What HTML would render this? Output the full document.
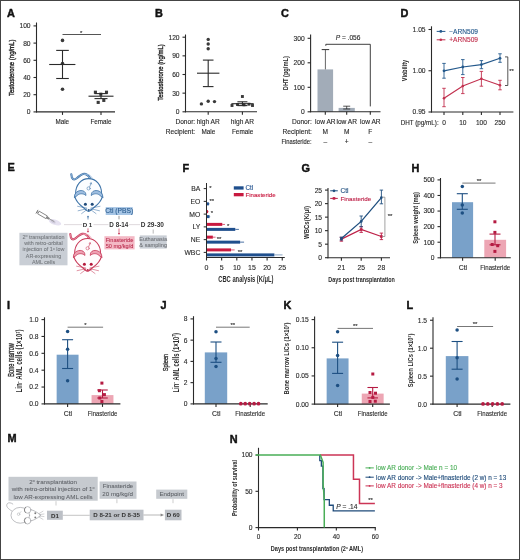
<!DOCTYPE html>
<html><head><meta charset="utf-8"><style>
html,body{margin:0;padding:0;background:#fff;}
svg{display:block;will-change:transform;}
text{font-family:"Liberation Sans", sans-serif;}
</style></head><body>
<svg width="520" height="560" viewBox="0 0 520 560" font-family='"Liberation Sans", sans-serif'>
<rect x="0.5" y="0.5" width="519" height="559" fill="#fff" stroke="#444" stroke-width="1"/>
<text x="7" y="16.52" font-size="10.9" text-anchor="start" fill="#111" font-weight="bold" stroke="#111" stroke-width="0.45">A</text>
<line x1="36.5" y1="22.5" x2="36.5" y2="112.4" stroke="#2a2a2a" stroke-width="1.1"/>
<line x1="33.5" y1="111.9" x2="36.5" y2="111.9" stroke="#2a2a2a" stroke-width="1.1"/>
<text x="30.6" y="114.31" font-size="6.7" text-anchor="end" fill="#2a2a2a" stroke="#2a2a2a" stroke-width="0.12">0</text>
<line x1="33.5" y1="94.7" x2="36.5" y2="94.7" stroke="#2a2a2a" stroke-width="1.1"/>
<text x="30.6" y="97.11" font-size="6.7" text-anchor="end" fill="#2a2a2a" stroke="#2a2a2a" stroke-width="0.12">20</text>
<line x1="33.5" y1="77.5" x2="36.5" y2="77.5" stroke="#2a2a2a" stroke-width="1.1"/>
<text x="30.6" y="79.91" font-size="6.7" text-anchor="end" fill="#2a2a2a" stroke="#2a2a2a" stroke-width="0.12">40</text>
<line x1="33.5" y1="60.3" x2="36.5" y2="60.3" stroke="#2a2a2a" stroke-width="1.1"/>
<text x="30.6" y="62.71" font-size="6.7" text-anchor="end" fill="#2a2a2a" stroke="#2a2a2a" stroke-width="0.12">60</text>
<line x1="33.5" y1="43.1" x2="36.5" y2="43.1" stroke="#2a2a2a" stroke-width="1.1"/>
<text x="30.6" y="45.51" font-size="6.7" text-anchor="end" fill="#2a2a2a" stroke="#2a2a2a" stroke-width="0.12">80</text>
<line x1="33.5" y1="25.9" x2="36.5" y2="25.9" stroke="#2a2a2a" stroke-width="1.1"/>
<text x="30.6" y="28.31" font-size="6.7" text-anchor="end" fill="#2a2a2a" stroke="#2a2a2a" stroke-width="0.12">100</text>
<line x1="36" y1="111.9" x2="115" y2="111.9" stroke="#2a2a2a" stroke-width="1.1"/>
<line x1="62.5" y1="111.9" x2="62.5" y2="114.9" stroke="#2a2a2a" stroke-width="1.1"/>
<line x1="101" y1="111.9" x2="101" y2="114.9" stroke="#2a2a2a" stroke-width="1.1"/>
<text x="10.9" y="70.43" font-size="7.3" text-anchor="middle" fill="#2a2a2a" textLength="56.4" lengthAdjust="spacingAndGlyphs" stroke="#2a2a2a" stroke-width="0.4" transform="rotate(-90 10.9 67.8)">Testosterone (ng/mL)</text>
<line x1="62.5" y1="34.5" x2="101" y2="34.5" stroke="#2a2a2a" stroke-width="0.8"/>
<text x="81.2" y="34.66" font-size="6" text-anchor="middle" fill="#2a2a2a" stroke="#2a2a2a" stroke-width="0.12">*</text>
<circle cx="62.5" cy="40.4" r="1.8" fill="#3a3a3a"/>
<circle cx="62.5" cy="63.5" r="1.8" fill="#3a3a3a"/>
<circle cx="62.5" cy="89.3" r="1.8" fill="#3a3a3a"/>
<line x1="49.2" y1="64.5" x2="75.4" y2="64.5" stroke="#2a2a2a" stroke-width="1.1"/>
<line x1="62.5" y1="50.4" x2="62.5" y2="78.5" stroke="#2a2a2a" stroke-width="1.1"/>
<line x1="56.2" y1="50.4" x2="68.8" y2="50.4" stroke="#2a2a2a" stroke-width="1.1"/>
<line x1="56.2" y1="78.5" x2="68.8" y2="78.5" stroke="#2a2a2a" stroke-width="1.1"/>
<rect x="93.85" y="90.65" width="3.1" height="3.1" fill="#3a3a3a"/>
<rect x="104.95" y="90.65" width="3.1" height="3.1" fill="#3a3a3a"/>
<rect x="99.25" y="92.65" width="3.1" height="3.1" fill="#3a3a3a"/>
<rect x="96.65" y="100.85" width="3.1" height="3.1" fill="#3a3a3a"/>
<rect x="102.25" y="98.85" width="3.1" height="3.1" fill="#3a3a3a"/>
<line x1="88.5" y1="96.2" x2="113.5" y2="96.2" stroke="#2a2a2a" stroke-width="1.1"/>
<line x1="101" y1="93.6" x2="101" y2="98.6" stroke="#2a2a2a" stroke-width="1.1"/>
<line x1="94.5" y1="93.6" x2="107.5" y2="93.6" stroke="#2a2a2a" stroke-width="1.1"/>
<line x1="94.5" y1="98.6" x2="107.5" y2="98.6" stroke="#2a2a2a" stroke-width="1.1"/>
<text x="62.3" y="123.97" font-size="6.3" text-anchor="middle" fill="#2a2a2a" stroke="#2a2a2a" stroke-width="0.12">Male</text>
<text x="100.9" y="123.97" font-size="6.3" text-anchor="middle" fill="#2a2a2a" stroke="#2a2a2a" stroke-width="0.12">Female</text>
<text x="155" y="16.52" font-size="10.9" text-anchor="start" fill="#111" font-weight="bold" stroke="#111" stroke-width="0.45">B</text>
<line x1="185.5" y1="34.5" x2="185.5" y2="112.3" stroke="#2a2a2a" stroke-width="1.1"/>
<line x1="182.5" y1="111.8" x2="185.5" y2="111.8" stroke="#2a2a2a" stroke-width="1.1"/>
<text x="179.6" y="114.21" font-size="6.7" text-anchor="end" fill="#2a2a2a" stroke="#2a2a2a" stroke-width="0.12">0</text>
<line x1="182.5" y1="93.15" x2="185.5" y2="93.15" stroke="#2a2a2a" stroke-width="1.1"/>
<text x="179.6" y="95.56" font-size="6.7" text-anchor="end" fill="#2a2a2a" stroke="#2a2a2a" stroke-width="0.12">30</text>
<line x1="182.5" y1="74.5" x2="185.5" y2="74.5" stroke="#2a2a2a" stroke-width="1.1"/>
<text x="179.6" y="76.91" font-size="6.7" text-anchor="end" fill="#2a2a2a" stroke="#2a2a2a" stroke-width="0.12">60</text>
<line x1="182.5" y1="55.85" x2="185.5" y2="55.85" stroke="#2a2a2a" stroke-width="1.1"/>
<text x="179.6" y="58.26" font-size="6.7" text-anchor="end" fill="#2a2a2a" stroke="#2a2a2a" stroke-width="0.12">90</text>
<line x1="182.5" y1="37.2" x2="185.5" y2="37.2" stroke="#2a2a2a" stroke-width="1.1"/>
<text x="179.6" y="39.61" font-size="6.7" text-anchor="end" fill="#2a2a2a" stroke="#2a2a2a" stroke-width="0.12">120</text>
<line x1="185" y1="111.8" x2="257" y2="111.8" stroke="#2a2a2a" stroke-width="1.1"/>
<line x1="208.2" y1="111.8" x2="208.2" y2="114.8" stroke="#2a2a2a" stroke-width="1.1"/>
<line x1="242.4" y1="111.8" x2="242.4" y2="114.8" stroke="#2a2a2a" stroke-width="1.1"/>
<text x="160.2" y="75.13" font-size="7.3" text-anchor="middle" fill="#2a2a2a" textLength="56.4" lengthAdjust="spacingAndGlyphs" stroke="#2a2a2a" stroke-width="0.4" transform="rotate(-90 160.2 72.5)">Testosterone (ng/mL)</text>
<circle cx="208.2" cy="39.4" r="1.7" fill="#3a3a3a"/>
<circle cx="208.2" cy="44" r="1.7" fill="#3a3a3a"/>
<circle cx="208.2" cy="48.7" r="1.7" fill="#3a3a3a"/>
<circle cx="201.4" cy="103.9" r="1.7" fill="#3a3a3a"/>
<circle cx="208.2" cy="101.2" r="1.7" fill="#3a3a3a"/>
<circle cx="214.5" cy="101.6" r="1.7" fill="#3a3a3a"/>
<line x1="197" y1="73.2" x2="219.4" y2="73.2" stroke="#2a2a2a" stroke-width="1.1"/>
<line x1="208.2" y1="60.1" x2="208.2" y2="86.6" stroke="#2a2a2a" stroke-width="1.1"/>
<line x1="202.9" y1="60.1" x2="213.5" y2="60.1" stroke="#2a2a2a" stroke-width="1.1"/>
<line x1="202.9" y1="86.6" x2="213.5" y2="86.6" stroke="#2a2a2a" stroke-width="1.1"/>
<rect x="240.95" y="95.05" width="2.9" height="2.9" fill="#3a3a3a"/>
<rect x="230.55" y="104.05" width="2.9" height="2.9" fill="#3a3a3a"/>
<rect x="236.05" y="103.05" width="2.9" height="2.9" fill="#3a3a3a"/>
<rect x="242.55" y="103.35" width="2.9" height="2.9" fill="#3a3a3a"/>
<rect x="247.55" y="102.75" width="2.9" height="2.9" fill="#3a3a3a"/>
<rect x="251.05" y="104.05" width="2.9" height="2.9" fill="#3a3a3a"/>
<line x1="231.4" y1="103.7" x2="253.7" y2="103.7" stroke="#2a2a2a" stroke-width="1.1"/>
<line x1="242.4" y1="101.8" x2="242.4" y2="105.6" stroke="#2a2a2a" stroke-width="1.1"/>
<line x1="237.4" y1="101.8" x2="247.4" y2="101.8" stroke="#2a2a2a" stroke-width="1.1"/>
<line x1="237.4" y1="105.6" x2="247.4" y2="105.6" stroke="#2a2a2a" stroke-width="1.1"/>
<text x="195.2" y="124.08" font-size="6.6" text-anchor="end" fill="#2a2a2a" stroke="#2a2a2a" stroke-width="0.12">Donor:</text>
<text x="208.2" y="124.28" font-size="6.6" text-anchor="middle" fill="#2a2a2a" stroke="#2a2a2a" stroke-width="0.12">high AR</text>
<text x="242.4" y="124.28" font-size="6.6" text-anchor="middle" fill="#2a2a2a" stroke="#2a2a2a" stroke-width="0.12">high AR</text>
<text x="195.2" y="133.88" font-size="6.6" text-anchor="end" fill="#2a2a2a" stroke="#2a2a2a" stroke-width="0.12">Recipient:</text>
<text x="208.4" y="133.8" font-size="6.4" text-anchor="middle" fill="#2a2a2a" stroke="#2a2a2a" stroke-width="0.12">Male</text>
<text x="242.6" y="133.8" font-size="6.4" text-anchor="middle" fill="#2a2a2a" stroke="#2a2a2a" stroke-width="0.12">Female</text>
<text x="281" y="16.52" font-size="10.9" text-anchor="start" fill="#111" font-weight="bold" stroke="#111" stroke-width="0.45">C</text>
<line x1="310.6" y1="34.5" x2="310.6" y2="112.3" stroke="#2a2a2a" stroke-width="1.1"/>
<line x1="307.6" y1="111.8" x2="310.6" y2="111.8" stroke="#2a2a2a" stroke-width="1.1"/>
<text x="304.7" y="114.21" font-size="6.7" text-anchor="end" fill="#2a2a2a" stroke="#2a2a2a" stroke-width="0.12">0</text>
<line x1="307.6" y1="87.3" x2="310.6" y2="87.3" stroke="#2a2a2a" stroke-width="1.1"/>
<text x="304.7" y="89.71" font-size="6.7" text-anchor="end" fill="#2a2a2a" stroke="#2a2a2a" stroke-width="0.12">100</text>
<line x1="307.6" y1="62.8" x2="310.6" y2="62.8" stroke="#2a2a2a" stroke-width="1.1"/>
<text x="304.7" y="65.21" font-size="6.7" text-anchor="end" fill="#2a2a2a" stroke="#2a2a2a" stroke-width="0.12">200</text>
<line x1="307.6" y1="38.3" x2="310.6" y2="38.3" stroke="#2a2a2a" stroke-width="1.1"/>
<text x="304.7" y="40.71" font-size="6.7" text-anchor="end" fill="#2a2a2a" stroke="#2a2a2a" stroke-width="0.12">300</text>
<text x="285.5" y="75.79" font-size="7.2" text-anchor="middle" fill="#2a2a2a" font-weight="bold" textLength="34" lengthAdjust="spacingAndGlyphs" transform="rotate(-90 285.5 73.2)">DHT (pg/mL)</text>
<rect x="317.5" y="69.4" width="15.6" height="42.4" fill="#a2acb8"/>
<line x1="325.4" y1="49.6" x2="325.4" y2="69.4" stroke="#555" stroke-width="0.9"/>
<line x1="321.7" y1="49.6" x2="329.2" y2="49.6" stroke="#333" stroke-width="1"/>
<rect x="338.6" y="107.9" width="16.2" height="3.9" fill="#a2acb8"/>
<line x1="346.7" y1="106.2" x2="346.7" y2="109" stroke="#2a2a2a" stroke-width="0.8"/>
<line x1="343.2" y1="106.2" x2="350.2" y2="106.2" stroke="#2a2a2a" stroke-width="0.8"/>
<line x1="343.2" y1="109" x2="350.2" y2="109" stroke="#2a2a2a" stroke-width="0.8"/>
<line x1="370.3" y1="111.3" x2="370.3" y2="111.8" stroke="#2a2a2a" stroke-width="1"/>
<line x1="310.1" y1="111.8" x2="380.5" y2="111.8" stroke="#2a2a2a" stroke-width="1.1"/>
<line x1="325.3" y1="111.8" x2="325.3" y2="114.8" stroke="#2a2a2a" stroke-width="1.1"/>
<line x1="346.7" y1="111.8" x2="346.7" y2="114.8" stroke="#2a2a2a" stroke-width="1.1"/>
<line x1="370.3" y1="111.8" x2="370.3" y2="114.8" stroke="#2a2a2a" stroke-width="1.1"/>
<polyline points="325.8,45.8 325.8,44.3 370.3,44.3 370.3,106.4" stroke="#2a2a2a" stroke-width="0.9" fill="none"/>
<text x="348.1" y="40.08" font-size="6.6" text-anchor="middle" fill="#2a2a2a" stroke="#2a2a2a" stroke-width="0.12"><tspan font-style="italic">P</tspan> = .056</text>
<text x="311.8" y="124.18" font-size="6.6" text-anchor="end" fill="#2a2a2a" stroke="#2a2a2a" stroke-width="0.12">Donor:</text>
<text x="325.3" y="124.28" font-size="6.6" text-anchor="middle" fill="#2a2a2a" stroke="#2a2a2a" stroke-width="0.12">low AR</text>
<text x="346.7" y="124.28" font-size="6.6" text-anchor="middle" fill="#2a2a2a" stroke="#2a2a2a" stroke-width="0.12">low AR</text>
<text x="370.3" y="124.28" font-size="6.6" text-anchor="middle" fill="#2a2a2a" stroke="#2a2a2a" stroke-width="0.12">low AR</text>
<text x="311.8" y="133.98" font-size="6.6" text-anchor="end" fill="#2a2a2a" stroke="#2a2a2a" stroke-width="0.12">Recipient:</text>
<text x="325.3" y="133.98" font-size="6.6" text-anchor="middle" fill="#2a2a2a" stroke="#2a2a2a" stroke-width="0.12">M</text>
<text x="346.7" y="133.98" font-size="6.6" text-anchor="middle" fill="#2a2a2a" stroke="#2a2a2a" stroke-width="0.12">M</text>
<text x="370.3" y="133.98" font-size="6.6" text-anchor="middle" fill="#2a2a2a" stroke="#2a2a2a" stroke-width="0.12">F</text>
<text x="311.6" y="143.68" font-size="6.6" text-anchor="end" fill="#2a2a2a" textLength="30.2" lengthAdjust="spacingAndGlyphs" stroke="#2a2a2a" stroke-width="0.12">Finasteride:</text>
<text x="325.3" y="143.68" font-size="6.6" text-anchor="middle" fill="#2a2a2a" stroke="#2a2a2a" stroke-width="0.12">–</text>
<text x="346.7" y="143.68" font-size="6.6" text-anchor="middle" fill="#2a2a2a" stroke="#2a2a2a" stroke-width="0.12">+</text>
<text x="370.3" y="143.68" font-size="6.6" text-anchor="middle" fill="#2a2a2a" stroke="#2a2a2a" stroke-width="0.12">–</text>
<text x="400.5" y="16.52" font-size="10.9" text-anchor="start" fill="#111" font-weight="bold" stroke="#111" stroke-width="0.45">D</text>
<line x1="431.5" y1="26.3" x2="431.5" y2="112.5" stroke="#2a2a2a" stroke-width="1.1"/>
<line x1="428.5" y1="112" x2="431.5" y2="112" stroke="#2a2a2a" stroke-width="1.1"/>
<text x="425.6" y="114.41" font-size="6.7" text-anchor="end" fill="#2a2a2a" stroke="#2a2a2a" stroke-width="0.12">0.95</text>
<line x1="428.5" y1="70.75" x2="431.5" y2="70.75" stroke="#2a2a2a" stroke-width="1.1"/>
<text x="425.6" y="73.16" font-size="6.7" text-anchor="end" fill="#2a2a2a" stroke="#2a2a2a" stroke-width="0.12">1.00</text>
<line x1="428.5" y1="29.5" x2="431.5" y2="29.5" stroke="#2a2a2a" stroke-width="1.1"/>
<text x="425.6" y="31.91" font-size="6.7" text-anchor="end" fill="#2a2a2a" stroke="#2a2a2a" stroke-width="0.12">1.05</text>
<line x1="431" y1="112" x2="513.4" y2="112" stroke="#2a2a2a" stroke-width="1.1"/>
<line x1="444" y1="112" x2="444" y2="115" stroke="#2a2a2a" stroke-width="1.1"/>
<line x1="462.8" y1="112" x2="462.8" y2="115" stroke="#2a2a2a" stroke-width="1.1"/>
<line x1="481.4" y1="112" x2="481.4" y2="115" stroke="#2a2a2a" stroke-width="1.1"/>
<line x1="500" y1="112" x2="500" y2="115" stroke="#2a2a2a" stroke-width="1.1"/>
<text x="404.2" y="72.95" font-size="6.8" text-anchor="middle" fill="#2a2a2a" font-weight="bold" textLength="21.5" lengthAdjust="spacingAndGlyphs" transform="rotate(-90 404.2 70.5)">Viability</text>
<text x="438.7" y="124.87" font-size="6.3" text-anchor="end" fill="#2a2a2a" stroke="#2a2a2a" stroke-width="0.12">DHT (pg/mL):</text>
<text x="444" y="124.98" font-size="6.6" text-anchor="middle" fill="#2a2a2a" stroke="#2a2a2a" stroke-width="0.12">0</text>
<text x="462.8" y="124.98" font-size="6.6" text-anchor="middle" fill="#2a2a2a" stroke="#2a2a2a" stroke-width="0.12">10</text>
<text x="481.4" y="124.98" font-size="6.6" text-anchor="middle" fill="#2a2a2a" stroke="#2a2a2a" stroke-width="0.12">100</text>
<text x="500" y="124.98" font-size="6.6" text-anchor="middle" fill="#2a2a2a" stroke="#2a2a2a" stroke-width="0.12">250</text>
<polyline points="444,98.3 462.8,86 481.4,78.8 500,85.2" stroke="#c2304e" stroke-width="1.2" fill="none"/>
<line x1="444" y1="88.3" x2="444" y2="106.7" stroke="#c2304e" stroke-width="0.9"/>
<line x1="442.25" y1="88.3" x2="445.75" y2="88.3" stroke="#c2304e" stroke-width="0.9"/>
<line x1="442.25" y1="106.7" x2="445.75" y2="106.7" stroke="#c2304e" stroke-width="0.9"/>
<line x1="462.8" y1="77.5" x2="462.8" y2="93.6" stroke="#c2304e" stroke-width="0.9"/>
<line x1="461.05" y1="77.5" x2="464.55" y2="77.5" stroke="#c2304e" stroke-width="0.9"/>
<line x1="461.05" y1="93.6" x2="464.55" y2="93.6" stroke="#c2304e" stroke-width="0.9"/>
<line x1="481.4" y1="71.4" x2="481.4" y2="86.2" stroke="#c2304e" stroke-width="0.9"/>
<line x1="479.65" y1="71.4" x2="483.15" y2="71.4" stroke="#c2304e" stroke-width="0.9"/>
<line x1="479.65" y1="86.2" x2="483.15" y2="86.2" stroke="#c2304e" stroke-width="0.9"/>
<line x1="500" y1="80.3" x2="500" y2="89.8" stroke="#c2304e" stroke-width="0.9"/>
<line x1="498.25" y1="80.3" x2="501.75" y2="80.3" stroke="#c2304e" stroke-width="0.9"/>
<line x1="498.25" y1="89.8" x2="501.75" y2="89.8" stroke="#c2304e" stroke-width="0.9"/>
<circle cx="444" cy="98.3" r="1.3" fill="#c2304e"/>
<circle cx="462.8" cy="86" r="1.3" fill="#c2304e"/>
<circle cx="481.4" cy="78.8" r="1.3" fill="#c2304e"/>
<circle cx="500" cy="85.2" r="1.3" fill="#c2304e"/>
<polyline points="444,70.8 462.8,67 481.4,64.6 500,58.3" stroke="#24598c" stroke-width="1.2" fill="none"/>
<line x1="444" y1="63.4" x2="444" y2="78.2" stroke="#24598c" stroke-width="0.9"/>
<line x1="442.25" y1="63.4" x2="445.75" y2="63.4" stroke="#24598c" stroke-width="0.9"/>
<line x1="442.25" y1="78.2" x2="445.75" y2="78.2" stroke="#24598c" stroke-width="0.9"/>
<line x1="462.8" y1="59.6" x2="462.8" y2="74.6" stroke="#24598c" stroke-width="0.9"/>
<line x1="461.05" y1="59.6" x2="464.55" y2="59.6" stroke="#24598c" stroke-width="0.9"/>
<line x1="461.05" y1="74.6" x2="464.55" y2="74.6" stroke="#24598c" stroke-width="0.9"/>
<line x1="481.4" y1="60.6" x2="481.4" y2="68.7" stroke="#24598c" stroke-width="0.9"/>
<line x1="479.65" y1="60.6" x2="483.15" y2="60.6" stroke="#24598c" stroke-width="0.9"/>
<line x1="479.65" y1="68.7" x2="483.15" y2="68.7" stroke="#24598c" stroke-width="0.9"/>
<line x1="500" y1="53.8" x2="500" y2="62.3" stroke="#24598c" stroke-width="0.9"/>
<line x1="498.25" y1="53.8" x2="501.75" y2="53.8" stroke="#24598c" stroke-width="0.9"/>
<line x1="498.25" y1="62.3" x2="501.75" y2="62.3" stroke="#24598c" stroke-width="0.9"/>
<circle cx="444" cy="70.8" r="1.4" fill="#24598c"/>
<circle cx="462.8" cy="67" r="1.4" fill="#24598c"/>
<circle cx="481.4" cy="64.6" r="1.4" fill="#24598c"/>
<circle cx="500" cy="58.3" r="1.4" fill="#24598c"/>
<line x1="436.7" y1="31.4" x2="445.4" y2="31.4" stroke="#24598c" stroke-width="1"/>
<circle cx="440.8" cy="31.4" r="1.4" fill="#24598c"/>
<text x="449.2" y="33.78" font-size="6.6" text-anchor="start" fill="#24598c" stroke="#24598c" stroke-width="0.12">−ARN509</text>
<line x1="436.7" y1="39.8" x2="445.4" y2="39.8" stroke="#c2304e" stroke-width="1"/>
<circle cx="440.8" cy="39.8" r="1.3" fill="#c2304e"/>
<text x="449.2" y="42.18" font-size="6.6" text-anchor="start" fill="#c2304e" stroke="#c2304e" stroke-width="0.12">+ARN509</text>
<polyline points="505,56.9 507.8,56.9 507.8,85.5 505,85.5" stroke="#2a2a2a" stroke-width="0.8" fill="none"/>
<text x="511.5" y="72.66" font-size="6" text-anchor="middle" fill="#2a2a2a" stroke="#2a2a2a" stroke-width="0.12">**</text>
<text x="7.5" y="171.22" font-size="10.9" text-anchor="start" fill="#111" font-weight="bold" stroke="#111" stroke-width="0.45">E</text>
<g transform="translate(88.6,195)" stroke-linecap="round" stroke-linejoin="round"><path d="M1.3,-17 C-0.5,-20 -3,-21.5 -5.5,-21 C-8,-20.5 -9.5,-18.5 -11.5,-17 C-13,-15.8 -14.5,-15.2 -15.5,-15.8 C-16.8,-16.8 -17.2,-19 -17.3,-20.8" stroke="#3f74a8" stroke-width="2.1" fill="none"/><path d="M1.3,-17 C-0.5,-20 -3,-21.5 -5.5,-21 C-8,-20.5 -9.5,-18.5 -11.5,-17 C-13,-15.8 -14.5,-15.2 -15.5,-15.8 C-16.8,-16.8 -17.2,-19 -17.3,-20.8" stroke="#9dbde0" stroke-width="0.8" fill="none"/><path d="M-4,-20.5 C-1,-21.5 2,-20 3.5,-17" stroke="#9dbde0" stroke-width="0.9" fill="none"/><path d="M0,-16.4 C7.5,-16.4 13,-10 13,-1.5 L13.6,2.2 C12.5,6 10,9 6,12 C3,14.5 1,16.4 0,16.4 C-1,16.4 -3,14.5 -6,12 C-10,9 -12.5,6 -13.6,2.2 L-13,-1.5 C-13,-10 -7.5,-16.4 0,-16.4 Z" fill="#fbfdff" stroke="#3f74a8" stroke-width="1.1"/><path d="M-14.2,2.4 C-14.6,-2.5 -10,-5.2 -6,-4.3 C-3.6,-3.7 -2.5,-1.8 -2.7,0.6 C-4.6,-1.6 -8.6,-1.8 -10.8,0 C-12,1 -13,2 -14.2,2.4 Z" fill="#9dbde0" stroke="#3f74a8" stroke-width="0.8"/><path d="M14.2,2.4 C14.6,-2.5 10,-5.2 6,-4.3 C3.6,-3.7 2.5,-1.8 2.7,0.6 C4.6,-1.6 8.6,-1.8 10.8,0 C12,1 13,2 14.2,2.4 Z" fill="#9dbde0" stroke="#3f74a8" stroke-width="0.8"/><circle cx="-3.2" cy="9.3" r="1.5" fill="#1f4a7a"/><circle cx="3.6" cy="9.3" r="1.5" fill="#1f4a7a"/><circle cx="0.2" cy="15" r="0.9" fill="#1f4a7a"/><path d="M-2,13 L-11,11.3 M-2,13.8 L-10.5,15.8 M-1.5,14.5 L-7,18.6 M2.4,13 L11.4,11.3 M2.4,13.8 L10.9,15.8 M1.9,14.5 L7.4,18.6" stroke="#3f74a8" stroke-width="0.55" fill="none"/><circle cx="0" cy="-6.6" r="1.6" fill="none" stroke="#3f74a8" stroke-width="0.55"/><path d="M1,-8 L2.6,-12 M1.5,-11.6 L2.6,-12.2 L3,-11" stroke="#3f74a8" stroke-width="0.6" fill="none"/></g>
<g transform="translate(87.6,254.9)" stroke-linecap="round" stroke-linejoin="round"><path d="M1.3,-17 C-0.5,-20 -3,-21.5 -5.5,-21 C-8,-20.5 -9.5,-18.5 -11.5,-17 C-13,-15.8 -14.5,-15.2 -15.5,-15.8 C-16.8,-16.8 -17.2,-19 -17.3,-20.8" stroke="#c83b5a" stroke-width="2.1" fill="none"/><path d="M1.3,-17 C-0.5,-20 -3,-21.5 -5.5,-21 C-8,-20.5 -9.5,-18.5 -11.5,-17 C-13,-15.8 -14.5,-15.2 -15.5,-15.8 C-16.8,-16.8 -17.2,-19 -17.3,-20.8" stroke="#eea0b2" stroke-width="0.8" fill="none"/><path d="M-4,-20.5 C-1,-21.5 2,-20 3.5,-17" stroke="#eea0b2" stroke-width="0.9" fill="none"/><path d="M0,-16.4 C7.5,-16.4 13,-10 13,-1.5 L13.6,2.2 C12.5,6 10,9 6,12 C3,14.5 1,16.4 0,16.4 C-1,16.4 -3,14.5 -6,12 C-10,9 -12.5,6 -13.6,2.2 L-13,-1.5 C-13,-10 -7.5,-16.4 0,-16.4 Z" fill="#fffbfc" stroke="#c83b5a" stroke-width="1.1"/><path d="M-14.2,2.4 C-14.6,-2.5 -10,-5.2 -6,-4.3 C-3.6,-3.7 -2.5,-1.8 -2.7,0.6 C-4.6,-1.6 -8.6,-1.8 -10.8,0 C-12,1 -13,2 -14.2,2.4 Z" fill="#eea0b2" stroke="#c83b5a" stroke-width="0.8"/><path d="M14.2,2.4 C14.6,-2.5 10,-5.2 6,-4.3 C3.6,-3.7 2.5,-1.8 2.7,0.6 C4.6,-1.6 8.6,-1.8 10.8,0 C12,1 13,2 14.2,2.4 Z" fill="#eea0b2" stroke="#c83b5a" stroke-width="0.8"/><circle cx="-3.2" cy="9.3" r="1.5" fill="#b5183c"/><circle cx="3.6" cy="9.3" r="1.5" fill="#b5183c"/><circle cx="0.2" cy="15" r="0.9" fill="#b5183c"/><path d="M-2,13 L-11,11.3 M-2,13.8 L-10.5,15.8 M-1.5,14.5 L-7,18.6 M2.4,13 L11.4,11.3 M2.4,13.8 L10.9,15.8 M1.9,14.5 L7.4,18.6" stroke="#c83b5a" stroke-width="0.55" fill="none"/><circle cx="0" cy="-6.6" r="1.6" fill="none" stroke="#c83b5a" stroke-width="0.55"/><path d="M1,-8 L2.6,-12 M1.5,-11.6 L2.6,-12.2 L3,-11" stroke="#c83b5a" stroke-width="0.6" fill="none"/></g>
<ellipse cx="55" cy="222.3" rx="6.5" ry="2.6" fill="#e6e2f1" transform="rotate(18 55 222.3)"/><ellipse cx="53" cy="221.5" rx="3" ry="1.5" fill="#cfcbdc" transform="rotate(30 53 221.5)"/>
<g transform="rotate(30 37 211.7)"><rect x="38.6" y="210.2" width="9.5" height="3" fill="#fff" stroke="#666" stroke-width="0.7"/><line x1="37" y1="209.6" x2="37" y2="213.8" stroke="#666" stroke-width="0.8"/><line x1="37" y1="211.7" x2="38.6" y2="211.7" stroke="#666" stroke-width="0.7"/><path d="M48.1,210.4 L51.5,210.9 L51.5,212.5 L48.1,213 Z" fill="#888"/><line x1="51.5" y1="211.7" x2="57" y2="211.7" stroke="#888" stroke-width="0.7"/></g>
<line x1="64" y1="224.6" x2="82" y2="224.6" stroke="#e2dde0" stroke-width="1.1"/>
<line x1="93.5" y1="224.6" x2="108.5" y2="224.6" stroke="#e2dde0" stroke-width="1.1"/>
<line x1="129" y1="224.6" x2="140" y2="224.6" stroke="#e2dde0" stroke-width="1.1"/>
<text x="87.5" y="226.83" font-size="6.2" text-anchor="middle" fill="#333" font-weight="bold">D 1</text>
<text x="118.8" y="226.67" font-size="6.3" text-anchor="middle" fill="#333" font-weight="bold">D 8-14</text>
<text x="152.3" y="226.54" font-size="6.5" text-anchor="middle" fill="#333" font-weight="bold">D 29-30</text>
<rect x="19.4" y="232.8" width="48.1" height="32.5" fill="#c9ced5"/>
<text x="43.5" y="238.84" font-size="5.4" text-anchor="middle" fill="#707479" stroke="#707479" stroke-width="0.05">2<tspan font-size="3.6" dy="-1.6">o</tspan><tspan dy="1.6"> transplantation</tspan></text>
<text x="43.5" y="245.14" font-size="5.4" text-anchor="middle" fill="#707479" stroke="#707479" stroke-width="0.05">with retro-orbital</text>
<text x="43.5" y="251.44" font-size="5.4" text-anchor="middle" fill="#707479" stroke="#707479" stroke-width="0.05">injection of 1<tspan font-size="3.6" dy="-1.6">o</tspan><tspan dy="1.6"> low</tspan></text>
<text x="43.5" y="257.74" font-size="5.4" text-anchor="middle" fill="#707479" stroke="#707479" stroke-width="0.05">AR-expressing</text>
<text x="43.5" y="264.04" font-size="5.4" text-anchor="middle" fill="#707479" stroke="#707479" stroke-width="0.05">AML cells</text>
<rect x="105.7" y="207.1" width="27" height="7.9" fill="#a6c5e5"/>
<text x="119.2" y="213.41" font-size="6.7" text-anchor="middle" fill="#2a5b8e" stroke="#2a5b8e" stroke-width="0.1">Ctl (PBS)</text>
<rect x="104.4" y="236.2" width="30.2" height="13.2" fill="#f3b9c5"/>
<text x="119.5" y="241.82" font-size="5.6" text-anchor="middle" fill="#b8284a" stroke="#b8284a" stroke-width="0.05">Finasteride</text>
<text x="119.5" y="247.72" font-size="5.6" text-anchor="middle" fill="#b8284a" stroke="#b8284a" stroke-width="0.05">50 mg/kg/d</text>
<rect x="139.8" y="235.4" width="26.9" height="13.2" fill="#c9ced5"/>
<text x="153.2" y="241.02" font-size="5.6" text-anchor="middle" fill="#6b6e73" stroke="#6b6e73" stroke-width="0.05">Euthanasia</text>
<text x="153.2" y="246.92" font-size="5.6" text-anchor="middle" fill="#6b6e73" stroke="#6b6e73" stroke-width="0.05">&amp; sampling</text>
<line x1="88" y1="219.5" x2="88" y2="216.2" stroke="#3f74a8" stroke-width="0.7"/>
<path d="M86.9,217.2 L88,215.4 L89.1,217.2 Z" fill="#3f74a8"/>
<line x1="88" y1="228.3" x2="88" y2="231.8" stroke="#c83b5a" stroke-width="0.7"/>
<path d="M86.9,231 L88,232.8 L89.1,231 Z" fill="#c83b5a"/>
<line x1="119" y1="219.3" x2="119" y2="215.8" stroke="#555" stroke-width="0.6"/>
<line x1="119" y1="228.5" x2="119" y2="233.8" stroke="#c83b5a" stroke-width="0.7"/>
<path d="M117.9,233 L119,234.9 L120.1,233 Z" fill="#c83b5a"/>
<line x1="153.2" y1="229.5" x2="153.2" y2="233.6" stroke="#888" stroke-width="0.6"/>
<text x="182.5" y="172.12" font-size="10.9" text-anchor="start" fill="#111" font-weight="bold" stroke="#111" stroke-width="0.45">F</text>
<rect x="206.5" y="184.6" width="0.45" height="3" fill="#c8193f"/>
<rect x="206.5" y="189.6" width="0.45" height="3" fill="#1f4f8d"/>
<line x1="203.7" y1="188.6" x2="206.5" y2="188.6" stroke="#2a2a2a" stroke-width="1"/>
<text x="200.3" y="191.05" font-size="6.8" text-anchor="end" fill="#2a2a2a" stroke="#2a2a2a" stroke-width="0.12">BA</text>
<rect x="206.5" y="197.36" width="0.45" height="3" fill="#c8193f"/>
<rect x="206.5" y="202.36" width="2.42" height="3" fill="#1f4f8d"/>
<line x1="208.92" y1="203.86" x2="209.53" y2="203.86" stroke="#1f4f8d" stroke-width="0.8"/>
<line x1="203.7" y1="201.36" x2="206.5" y2="201.36" stroke="#2a2a2a" stroke-width="1"/>
<text x="200.3" y="203.81" font-size="6.8" text-anchor="end" fill="#2a2a2a" stroke="#2a2a2a" stroke-width="0.12">EO</text>
<rect x="206.5" y="210.12" width="1.51" height="3" fill="#c8193f"/>
<line x1="208.01" y1="211.67" x2="208.62" y2="211.67" stroke="#c8193f" stroke-width="0.7"/>
<rect x="206.5" y="215.12" width="3.03" height="3" fill="#1f4f8d"/>
<line x1="209.53" y1="216.62" x2="210.14" y2="216.62" stroke="#1f4f8d" stroke-width="0.8"/>
<line x1="203.7" y1="214.12" x2="206.5" y2="214.12" stroke="#2a2a2a" stroke-width="1"/>
<text x="200.3" y="216.57" font-size="6.8" text-anchor="end" fill="#2a2a2a" stroke="#2a2a2a" stroke-width="0.12">MO</text>
<rect x="206.5" y="222.88" width="15.76" height="3" fill="#c8193f"/>
<line x1="222.26" y1="224.43" x2="224.98" y2="224.43" stroke="#c8193f" stroke-width="0.7"/>
<rect x="206.5" y="227.88" width="28.78" height="3" fill="#1f4f8d"/>
<line x1="235.28" y1="229.38" x2="238.92" y2="229.38" stroke="#1f4f8d" stroke-width="0.8"/>
<line x1="203.7" y1="226.88" x2="206.5" y2="226.88" stroke="#2a2a2a" stroke-width="1"/>
<text x="200.3" y="229.33" font-size="6.8" text-anchor="end" fill="#2a2a2a" stroke="#2a2a2a" stroke-width="0.12">LY</text>
<rect x="206.5" y="235.64" width="6.36" height="3" fill="#c8193f"/>
<line x1="212.86" y1="237.19" x2="215.59" y2="237.19" stroke="#c8193f" stroke-width="0.7"/>
<rect x="206.5" y="240.64" width="33.63" height="3" fill="#1f4f8d"/>
<line x1="240.13" y1="242.14" x2="244.07" y2="242.14" stroke="#1f4f8d" stroke-width="0.8"/>
<line x1="203.7" y1="239.64" x2="206.5" y2="239.64" stroke="#2a2a2a" stroke-width="1"/>
<text x="200.3" y="242.09" font-size="6.8" text-anchor="end" fill="#2a2a2a" stroke="#2a2a2a" stroke-width="0.12">NE</text>
<rect x="206.5" y="248.4" width="24.54" height="3" fill="#c8193f"/>
<line x1="231.04" y1="249.95" x2="234.68" y2="249.95" stroke="#c8193f" stroke-width="0.7"/>
<rect x="206.5" y="253.4" width="67.87" height="3" fill="#1f4f8d"/>
<line x1="274.37" y1="254.9" x2="282.55" y2="254.9" stroke="#6c8fb8" stroke-width="0.8"/>
<line x1="203.7" y1="252.4" x2="206.5" y2="252.4" stroke="#2a2a2a" stroke-width="1"/>
<text x="200.3" y="254.85" font-size="6.8" text-anchor="end" fill="#2a2a2a" stroke="#2a2a2a" stroke-width="0.12">WBC</text>
<line x1="206.5" y1="183" x2="206.5" y2="258" stroke="#2a2a2a" stroke-width="1"/>
<line x1="206" y1="257.5" x2="284.8" y2="257.5" stroke="#2a2a2a" stroke-width="1.1"/>
<line x1="206.5" y1="257.5" x2="206.5" y2="260.5" stroke="#2a2a2a" stroke-width="1.1"/>
<line x1="221.65" y1="257.5" x2="221.65" y2="260.5" stroke="#2a2a2a" stroke-width="1.1"/>
<line x1="236.8" y1="257.5" x2="236.8" y2="260.5" stroke="#2a2a2a" stroke-width="1.1"/>
<line x1="251.95" y1="257.5" x2="251.95" y2="260.5" stroke="#2a2a2a" stroke-width="1.1"/>
<line x1="267.1" y1="257.5" x2="267.1" y2="260.5" stroke="#2a2a2a" stroke-width="1.1"/>
<line x1="282.25" y1="257.5" x2="282.25" y2="260.5" stroke="#2a2a2a" stroke-width="1.1"/>
<text x="206.5" y="270.32" font-size="7" text-anchor="middle" fill="#2a2a2a" stroke="#2a2a2a" stroke-width="0.12">0</text>
<text x="221.65" y="270.32" font-size="7" text-anchor="middle" fill="#2a2a2a" stroke="#2a2a2a" stroke-width="0.12">5</text>
<text x="236.8" y="270.32" font-size="7" text-anchor="middle" fill="#2a2a2a" stroke="#2a2a2a" stroke-width="0.12">10</text>
<text x="251.95" y="270.32" font-size="7" text-anchor="middle" fill="#2a2a2a" stroke="#2a2a2a" stroke-width="0.12">15</text>
<text x="267.1" y="270.32" font-size="7" text-anchor="middle" fill="#2a2a2a" stroke="#2a2a2a" stroke-width="0.12">20</text>
<text x="282.25" y="270.32" font-size="7" text-anchor="middle" fill="#2a2a2a" stroke="#2a2a2a" stroke-width="0.12">25</text>
<text x="210.4" y="190.16" font-size="6" text-anchor="middle" fill="#2a2a2a" stroke="#2a2a2a" stroke-width="0.12">*</text>
<text x="211.8" y="202.66" font-size="6" text-anchor="middle" fill="#2a2a2a" stroke="#2a2a2a" stroke-width="0.12">**</text>
<text x="211.9" y="215.16" font-size="6" text-anchor="middle" fill="#2a2a2a" stroke="#2a2a2a" stroke-width="0.12">*</text>
<text x="228.2" y="227.96" font-size="6" text-anchor="middle" fill="#2a2a2a" stroke="#2a2a2a" stroke-width="0.12">*</text>
<text x="219" y="240.96" font-size="6" text-anchor="middle" fill="#2a2a2a" stroke="#2a2a2a" stroke-width="0.12">**</text>
<text x="240" y="253.56" font-size="6" text-anchor="middle" fill="#2a2a2a" stroke="#2a2a2a" stroke-width="0.12">**</text>
<text x="245.9" y="282.07" font-size="8.8" text-anchor="middle" fill="#2a2a2a" font-weight="bold" textLength="55.3" lengthAdjust="spacingAndGlyphs">CBC analysis (K/μL)</text>
<rect x="233.8" y="186.3" width="9.8" height="3.3" fill="#1f4f8d"/>
<rect x="233.8" y="193" width="9.8" height="3.3" fill="#c8193f"/>
<text x="245.5" y="190.07" font-size="6.3" text-anchor="start" fill="#1f4f8d" stroke="#1f4f8d" stroke-width="0.12">Ctl</text>
<text x="245.5" y="196.8" font-size="6.1" text-anchor="start" fill="#c8193f" stroke="#c8193f" stroke-width="0.12">Finasteride</text>
<text x="301.6" y="172.02" font-size="10.9" text-anchor="start" fill="#111" font-weight="bold" stroke="#111" stroke-width="0.45">G</text>
<line x1="328" y1="188.1" x2="328" y2="258.2" stroke="#2a2a2a" stroke-width="1.1"/>
<line x1="325" y1="257.7" x2="328" y2="257.7" stroke="#2a2a2a" stroke-width="1.1"/>
<text x="322.1" y="260.11" font-size="6.7" text-anchor="end" fill="#2a2a2a" stroke="#2a2a2a" stroke-width="0.12">0</text>
<line x1="325" y1="244.18" x2="328" y2="244.18" stroke="#2a2a2a" stroke-width="1.1"/>
<text x="322.1" y="246.59" font-size="6.7" text-anchor="end" fill="#2a2a2a" stroke="#2a2a2a" stroke-width="0.12">5</text>
<line x1="325" y1="230.66" x2="328" y2="230.66" stroke="#2a2a2a" stroke-width="1.1"/>
<text x="322.1" y="233.07" font-size="6.7" text-anchor="end" fill="#2a2a2a" stroke="#2a2a2a" stroke-width="0.12">10</text>
<line x1="325" y1="217.14" x2="328" y2="217.14" stroke="#2a2a2a" stroke-width="1.1"/>
<text x="322.1" y="219.55" font-size="6.7" text-anchor="end" fill="#2a2a2a" stroke="#2a2a2a" stroke-width="0.12">15</text>
<line x1="325" y1="203.62" x2="328" y2="203.62" stroke="#2a2a2a" stroke-width="1.1"/>
<text x="322.1" y="206.03" font-size="6.7" text-anchor="end" fill="#2a2a2a" stroke="#2a2a2a" stroke-width="0.12">20</text>
<line x1="325" y1="190.1" x2="328" y2="190.1" stroke="#2a2a2a" stroke-width="1.1"/>
<text x="322.1" y="192.51" font-size="6.7" text-anchor="end" fill="#2a2a2a" stroke="#2a2a2a" stroke-width="0.12">25</text>
<line x1="327.5" y1="257.7" x2="390" y2="257.7" stroke="#2a2a2a" stroke-width="1.1"/>
<line x1="341.4" y1="257.7" x2="341.4" y2="260.7" stroke="#2a2a2a" stroke-width="1.1"/>
<line x1="361.2" y1="257.7" x2="361.2" y2="260.7" stroke="#2a2a2a" stroke-width="1.1"/>
<line x1="381.4" y1="257.7" x2="381.4" y2="260.7" stroke="#2a2a2a" stroke-width="1.1"/>
<text x="341.4" y="269.65" font-size="6.8" text-anchor="middle" fill="#2a2a2a" stroke="#2a2a2a" stroke-width="0.12">21</text>
<text x="361.2" y="269.65" font-size="6.8" text-anchor="middle" fill="#2a2a2a" stroke="#2a2a2a" stroke-width="0.12">25</text>
<text x="381.4" y="269.65" font-size="6.8" text-anchor="middle" fill="#2a2a2a" stroke="#2a2a2a" stroke-width="0.12">28</text>
<polyline points="341.4,239.2 361.2,229.5 381.4,236.5" stroke="#be2148" stroke-width="1.3" fill="none"/>
<line x1="341.4" y1="237.3" x2="341.4" y2="241.2" stroke="#be2148" stroke-width="0.9"/>
<line x1="339.7" y1="237.3" x2="343.1" y2="237.3" stroke="#be2148" stroke-width="0.9"/>
<line x1="339.7" y1="241.2" x2="343.1" y2="241.2" stroke="#be2148" stroke-width="0.9"/>
<line x1="361.2" y1="226.6" x2="361.2" y2="232.4" stroke="#be2148" stroke-width="0.9"/>
<line x1="359.5" y1="226.6" x2="362.9" y2="226.6" stroke="#be2148" stroke-width="0.9"/>
<line x1="359.5" y1="232.4" x2="362.9" y2="232.4" stroke="#be2148" stroke-width="0.9"/>
<line x1="381.4" y1="233.1" x2="381.4" y2="239.6" stroke="#be2148" stroke-width="0.9"/>
<line x1="379.7" y1="233.1" x2="383.1" y2="233.1" stroke="#be2148" stroke-width="0.9"/>
<line x1="379.7" y1="239.6" x2="383.1" y2="239.6" stroke="#be2148" stroke-width="0.9"/>
<rect x="340.1" y="237.9" width="2.6" height="2.6" fill="#be2148"/>
<rect x="359.9" y="228.2" width="2.6" height="2.6" fill="#be2148"/>
<rect x="380.1" y="235.2" width="2.6" height="2.6" fill="#be2148"/>
<polyline points="341.4,238.6 361.2,221.4 381.4,197.6" stroke="#1f4f7f" stroke-width="1.3" fill="none"/>
<line x1="341.4" y1="237.2" x2="341.4" y2="240" stroke="#1f4f7f" stroke-width="0.9"/>
<line x1="339.7" y1="237.2" x2="343.1" y2="237.2" stroke="#1f4f7f" stroke-width="0.9"/>
<line x1="339.7" y1="240" x2="343.1" y2="240" stroke="#1f4f7f" stroke-width="0.9"/>
<line x1="361.2" y1="216" x2="361.2" y2="226.8" stroke="#1f4f7f" stroke-width="0.9"/>
<line x1="359.5" y1="216" x2="362.9" y2="216" stroke="#1f4f7f" stroke-width="0.9"/>
<line x1="359.5" y1="226.8" x2="362.9" y2="226.8" stroke="#1f4f7f" stroke-width="0.9"/>
<line x1="381.4" y1="190.1" x2="381.4" y2="203.8" stroke="#1f4f7f" stroke-width="0.9"/>
<line x1="379.7" y1="190.1" x2="383.1" y2="190.1" stroke="#1f4f7f" stroke-width="0.9"/>
<line x1="379.7" y1="203.8" x2="383.1" y2="203.8" stroke="#1f4f7f" stroke-width="0.9"/>
<circle cx="341.4" cy="238.6" r="1.35" fill="#1f4f7f"/>
<circle cx="361.2" cy="221.4" r="1.35" fill="#1f4f7f"/>
<circle cx="381.4" cy="197.6" r="1.35" fill="#1f4f7f"/>
<line x1="330.2" y1="190.8" x2="337.8" y2="190.8" stroke="#1f4f7f" stroke-width="1"/>
<circle cx="334" cy="190.8" r="1.35" fill="#1f4f7f"/>
<text x="340.4" y="193.18" font-size="6.6" text-anchor="start" fill="#1f4f7f" stroke="#1f4f7f" stroke-width="0.12">Ctl</text>
<line x1="330.2" y1="198.4" x2="337.8" y2="198.4" stroke="#be2148" stroke-width="1"/>
<rect x="332.7" y="197.1" width="2.6" height="2.6" fill="#be2148"/>
<text x="340.4" y="200.65" font-size="6.25" text-anchor="start" fill="#be2148" stroke="#be2148" stroke-width="0.12">Finasteride</text>
<polyline points="382.2,197.2 384.9,197.2 384.9,236.5 382.2,236.5" stroke="#8a8a8a" stroke-width="0.8" fill="none"/>
<text x="390" y="218.46" font-size="6" text-anchor="middle" fill="#2a2a2a" stroke="#2a2a2a" stroke-width="0.12">**</text>
<text x="306.3" y="225.38" font-size="8" text-anchor="middle" fill="#2a2a2a" font-weight="bold" textLength="33" lengthAdjust="spacingAndGlyphs" transform="rotate(-90 306.3 222.5)">WBCs(K/μl)</text>
<text x="361.6" y="281.88" font-size="8" text-anchor="middle" fill="#2a2a2a" font-weight="bold" textLength="66.5" lengthAdjust="spacingAndGlyphs">Days post transplantation</text>
<text x="411.6" y="172.32" font-size="10.9" text-anchor="start" fill="#111" font-weight="bold" stroke="#111" stroke-width="0.45">H</text>
<line x1="440.5" y1="178" x2="440.5" y2="258.3" stroke="#2a2a2a" stroke-width="1.1"/>
<line x1="437.5" y1="257.8" x2="440.5" y2="257.8" stroke="#2a2a2a" stroke-width="1.1"/>
<text x="434.6" y="260.21" font-size="6.7" text-anchor="end" fill="#2a2a2a" stroke="#2a2a2a" stroke-width="0.12">0</text>
<line x1="437.5" y1="242.22" x2="440.5" y2="242.22" stroke="#2a2a2a" stroke-width="1.1"/>
<text x="434.6" y="244.63" font-size="6.7" text-anchor="end" fill="#2a2a2a" stroke="#2a2a2a" stroke-width="0.12">100</text>
<line x1="437.5" y1="226.64" x2="440.5" y2="226.64" stroke="#2a2a2a" stroke-width="1.1"/>
<text x="434.6" y="229.05" font-size="6.7" text-anchor="end" fill="#2a2a2a" stroke="#2a2a2a" stroke-width="0.12">200</text>
<line x1="437.5" y1="211.06" x2="440.5" y2="211.06" stroke="#2a2a2a" stroke-width="1.1"/>
<text x="434.6" y="213.47" font-size="6.7" text-anchor="end" fill="#2a2a2a" stroke="#2a2a2a" stroke-width="0.12">300</text>
<line x1="437.5" y1="195.48" x2="440.5" y2="195.48" stroke="#2a2a2a" stroke-width="1.1"/>
<text x="434.6" y="197.89" font-size="6.7" text-anchor="end" fill="#2a2a2a" stroke="#2a2a2a" stroke-width="0.12">400</text>
<line x1="437.5" y1="179.9" x2="440.5" y2="179.9" stroke="#2a2a2a" stroke-width="1.1"/>
<text x="434.6" y="182.31" font-size="6.7" text-anchor="end" fill="#2a2a2a" stroke="#2a2a2a" stroke-width="0.12">500</text>
<rect x="452" y="202.2" width="21.1" height="55.6" fill="#79a1c9"/>
<rect x="484.3" y="239.8" width="21.8" height="18" fill="#eda6b4"/>
<line x1="440" y1="257.8" x2="510.8" y2="257.8" stroke="#2a2a2a" stroke-width="1.1"/>
<line x1="462.6" y1="257.8" x2="462.6" y2="260.8" stroke="#2a2a2a" stroke-width="1.1"/>
<line x1="495.2" y1="257.8" x2="495.2" y2="260.8" stroke="#2a2a2a" stroke-width="1.1"/>
<line x1="462.3" y1="193.7" x2="462.3" y2="209.3" stroke="#1d4f82" stroke-width="1.1"/>
<line x1="456.8" y1="193.7" x2="467.8" y2="193.7" stroke="#1d4f82" stroke-width="1.1"/>
<line x1="456.8" y1="209.3" x2="467.8" y2="209.3" stroke="#1d4f82" stroke-width="1.1"/>
<circle cx="462.3" cy="186.5" r="1.75" fill="#1d4f82"/>
<circle cx="462.3" cy="205.1" r="1.75" fill="#1d4f82"/>
<circle cx="462.3" cy="213" r="1.75" fill="#1d4f82"/>
<line x1="495" y1="234.1" x2="495" y2="244.8" stroke="#b51b42" stroke-width="1.1"/>
<line x1="489.5" y1="234.1" x2="500.5" y2="234.1" stroke="#b51b42" stroke-width="1.1"/>
<line x1="489.5" y1="244.8" x2="500.5" y2="244.8" stroke="#b51b42" stroke-width="1.1"/>
<rect x="493.4" y="220.3" width="3" height="3" fill="#b51b42"/>
<rect x="493.4" y="230.9" width="3" height="3" fill="#b51b42"/>
<rect x="490.7" y="243" width="3" height="3" fill="#b51b42"/>
<rect x="496.2" y="244.2" width="3" height="3" fill="#b51b42"/>
<rect x="493.4" y="249.9" width="3" height="3" fill="#b51b42"/>
<line x1="462.3" y1="183.1" x2="495.5" y2="183.1" stroke="#3c3c3c" stroke-width="0.7"/>
<text x="479" y="182.96" font-size="6" text-anchor="middle" fill="#2a2a2a" stroke="#2a2a2a" stroke-width="0.12">**</text>
<text x="462.9" y="269.78" font-size="6.9" text-anchor="middle" fill="#2a2a2a" stroke="#2a2a2a" stroke-width="0.12">Ctl</text>
<text x="495.2" y="269.82" font-size="7" text-anchor="middle" fill="#2a2a2a" textLength="29.9" lengthAdjust="spacingAndGlyphs" stroke="#2a2a2a" stroke-width="0.12">Finasteride</text>
<text x="415" y="220.49" font-size="7.2" text-anchor="middle" fill="#2a2a2a" font-weight="bold" textLength="51.7" lengthAdjust="spacingAndGlyphs" transform="rotate(-90 415 217.9)">Spleen weight (mg)</text>
<text x="7" y="308.72" font-size="10.9" text-anchor="start" fill="#111" font-weight="bold" stroke="#111" stroke-width="0.45">I</text>
<line x1="44.5" y1="317.3" x2="44.5" y2="404.4" stroke="#2a2a2a" stroke-width="1.1"/>
<line x1="41.5" y1="403.9" x2="44.5" y2="403.9" stroke="#2a2a2a" stroke-width="1.1"/>
<text x="38.6" y="406.31" font-size="6.7" text-anchor="end" fill="#2a2a2a" stroke="#2a2a2a" stroke-width="0.12">0.0</text>
<line x1="41.5" y1="387.04" x2="44.5" y2="387.04" stroke="#2a2a2a" stroke-width="1.1"/>
<text x="38.6" y="389.45" font-size="6.7" text-anchor="end" fill="#2a2a2a" stroke="#2a2a2a" stroke-width="0.12">0.2</text>
<line x1="41.5" y1="370.18" x2="44.5" y2="370.18" stroke="#2a2a2a" stroke-width="1.1"/>
<text x="38.6" y="372.59" font-size="6.7" text-anchor="end" fill="#2a2a2a" stroke="#2a2a2a" stroke-width="0.12">0.4</text>
<line x1="41.5" y1="353.32" x2="44.5" y2="353.32" stroke="#2a2a2a" stroke-width="1.1"/>
<text x="38.6" y="355.73" font-size="6.7" text-anchor="end" fill="#2a2a2a" stroke="#2a2a2a" stroke-width="0.12">0.6</text>
<line x1="41.5" y1="336.46" x2="44.5" y2="336.46" stroke="#2a2a2a" stroke-width="1.1"/>
<text x="38.6" y="338.87" font-size="6.7" text-anchor="end" fill="#2a2a2a" stroke="#2a2a2a" stroke-width="0.12">0.8</text>
<line x1="41.5" y1="319.6" x2="44.5" y2="319.6" stroke="#2a2a2a" stroke-width="1.1"/>
<text x="38.6" y="322.01" font-size="6.7" text-anchor="end" fill="#2a2a2a" stroke="#2a2a2a" stroke-width="0.12">1.0</text>
<rect x="56.65" y="354.7" width="21.9" height="49.2" fill="#79a1c9"/>
<rect x="91.55" y="395.1" width="21.9" height="8.8" fill="#eda6b4"/>
<line x1="44" y1="403.9" x2="120.4" y2="403.9" stroke="#2a2a2a" stroke-width="1.1"/>
<line x1="67.6" y1="403.9" x2="67.6" y2="406.9" stroke="#2a2a2a" stroke-width="1.1"/>
<line x1="102.5" y1="403.9" x2="102.5" y2="406.9" stroke="#2a2a2a" stroke-width="1.1"/>
<line x1="67.6" y1="339.7" x2="67.6" y2="368.5" stroke="#1d4f82" stroke-width="1.1"/>
<line x1="62.1" y1="339.7" x2="73.1" y2="339.7" stroke="#1d4f82" stroke-width="1.1"/>
<line x1="62.1" y1="368.5" x2="73.1" y2="368.5" stroke="#1d4f82" stroke-width="1.1"/>
<circle cx="67.6" cy="331.6" r="1.75" fill="#1d4f82"/>
<circle cx="67.6" cy="349.2" r="1.75" fill="#1d4f82"/>
<circle cx="67.6" cy="380.8" r="1.75" fill="#1d4f82"/>
<line x1="102.5" y1="390" x2="102.5" y2="398" stroke="#b51b42" stroke-width="1.1"/>
<line x1="97.25" y1="390" x2="107.75" y2="390" stroke="#b51b42" stroke-width="1.1"/>
<line x1="97.25" y1="398" x2="107.75" y2="398" stroke="#b51b42" stroke-width="1.1"/>
<rect x="100.4" y="381.6" width="3" height="3" fill="#b51b42"/>
<rect x="97.9" y="389.2" width="3" height="3" fill="#b51b42"/>
<rect x="102.9" y="393.1" width="3" height="3" fill="#b51b42"/>
<rect x="100.4" y="400" width="3" height="3" fill="#b51b42"/>
<rect x="98.3" y="396.5" width="3" height="3" fill="#b51b42"/>
<line x1="67.6" y1="327.2" x2="103.1" y2="327.2" stroke="#3c3c3c" stroke-width="0.7"/>
<text x="85.35" y="326.76" font-size="6" text-anchor="middle" fill="#2a2a2a" stroke="#2a2a2a" stroke-width="0.12">*</text>
<text x="67.9" y="415.78" font-size="6.9" text-anchor="middle" fill="#2a2a2a" stroke="#2a2a2a" stroke-width="0.12">Ctl</text>
<text x="102.5" y="415.82" font-size="7" text-anchor="middle" fill="#2a2a2a" textLength="29.7" lengthAdjust="spacingAndGlyphs" stroke="#2a2a2a" stroke-width="0.12">Finasteride</text>
<text x="11.2" y="362.92" font-size="8.4" text-anchor="middle" fill="#2a2a2a" textLength="33.6" lengthAdjust="spacingAndGlyphs" stroke="#2a2a2a" stroke-width="0.3" transform="rotate(-90 11.2 359.9)">Bone marrow</text>
<text x="19.5" y="363.95" font-size="8.2" text-anchor="middle" fill="#2a2a2a" font-weight="bold" textLength="63" lengthAdjust="spacingAndGlyphs" transform="rotate(-90 19.5 361)">Lin<tspan font-size="4.6" dy="-2.6">−</tspan><tspan dy="2.6"> AML cells (1×10</tspan><tspan font-size="4.6" dy="-2.6">7</tspan><tspan dy="2.6">)</tspan></text>
<text x="160.4" y="309.42" font-size="10.9" text-anchor="start" fill="#111" font-weight="bold" stroke="#111" stroke-width="0.45">J</text>
<line x1="193.5" y1="316.2" x2="193.5" y2="404.4" stroke="#2a2a2a" stroke-width="1.1"/>
<line x1="190.5" y1="403.9" x2="193.5" y2="403.9" stroke="#2a2a2a" stroke-width="1.1"/>
<text x="187.6" y="406.31" font-size="6.7" text-anchor="end" fill="#2a2a2a" stroke="#2a2a2a" stroke-width="0.12">0</text>
<line x1="190.5" y1="382.65" x2="193.5" y2="382.65" stroke="#2a2a2a" stroke-width="1.1"/>
<text x="187.6" y="385.06" font-size="6.7" text-anchor="end" fill="#2a2a2a" stroke="#2a2a2a" stroke-width="0.12">2</text>
<line x1="190.5" y1="361.4" x2="193.5" y2="361.4" stroke="#2a2a2a" stroke-width="1.1"/>
<text x="187.6" y="363.81" font-size="6.7" text-anchor="end" fill="#2a2a2a" stroke="#2a2a2a" stroke-width="0.12">4</text>
<line x1="190.5" y1="340.15" x2="193.5" y2="340.15" stroke="#2a2a2a" stroke-width="1.1"/>
<text x="187.6" y="342.56" font-size="6.7" text-anchor="end" fill="#2a2a2a" stroke="#2a2a2a" stroke-width="0.12">6</text>
<line x1="190.5" y1="318.9" x2="193.5" y2="318.9" stroke="#2a2a2a" stroke-width="1.1"/>
<text x="187.6" y="321.31" font-size="6.7" text-anchor="end" fill="#2a2a2a" stroke="#2a2a2a" stroke-width="0.12">8</text>
<rect x="204.8" y="352.4" width="22.4" height="51.5" fill="#79a1c9"/>
<line x1="193" y1="403.9" x2="267.7" y2="403.9" stroke="#2a2a2a" stroke-width="1.1"/>
<line x1="216" y1="403.9" x2="216" y2="406.9" stroke="#2a2a2a" stroke-width="1.1"/>
<line x1="250.2" y1="403.9" x2="250.2" y2="406.9" stroke="#2a2a2a" stroke-width="1.1"/>
<line x1="216" y1="342" x2="216" y2="362.3" stroke="#1d4f82" stroke-width="1.1"/>
<line x1="210.5" y1="342" x2="221.5" y2="342" stroke="#1d4f82" stroke-width="1.1"/>
<line x1="210.5" y1="362.3" x2="221.5" y2="362.3" stroke="#1d4f82" stroke-width="1.1"/>
<circle cx="216" cy="331.8" r="1.75" fill="#1d4f82"/>
<circle cx="216" cy="358.4" r="1.75" fill="#1d4f82"/>
<circle cx="216" cy="366.5" r="1.75" fill="#1d4f82"/>
<circle cx="240.8" cy="403.7" r="1.85" fill="#b51b42"/>
<circle cx="245.2" cy="403.7" r="1.85" fill="#b51b42"/>
<circle cx="249.7" cy="403.7" r="1.85" fill="#b51b42"/>
<circle cx="254.1" cy="403.7" r="1.85" fill="#b51b42"/>
<circle cx="258.5" cy="403.7" r="1.85" fill="#b51b42"/>
<line x1="216" y1="327.2" x2="249.7" y2="327.2" stroke="#3c3c3c" stroke-width="0.7"/>
<text x="232.85" y="326.76" font-size="6" text-anchor="middle" fill="#2a2a2a" stroke="#2a2a2a" stroke-width="0.12">**</text>
<text x="216.3" y="415.78" font-size="6.9" text-anchor="middle" fill="#2a2a2a" stroke="#2a2a2a" stroke-width="0.12">Ctl</text>
<text x="250.2" y="415.82" font-size="7" text-anchor="middle" fill="#2a2a2a" textLength="29.7" lengthAdjust="spacingAndGlyphs" stroke="#2a2a2a" stroke-width="0.12">Finasteride</text>
<text x="164.9" y="365.16" font-size="7.4" text-anchor="middle" fill="#2a2a2a" textLength="17.5" lengthAdjust="spacingAndGlyphs" stroke="#2a2a2a" stroke-width="0.3" transform="rotate(-90 164.9 362.5)">Spleen</text>
<text x="175.6" y="365.75" font-size="8.2" text-anchor="middle" fill="#2a2a2a" font-weight="bold" textLength="59.4" lengthAdjust="spacingAndGlyphs" transform="rotate(-90 175.6 362.8)">Lin<tspan font-size="4.6" dy="-2.6">−</tspan><tspan dy="2.6"> AML cells (1×10</tspan><tspan font-size="4.6" dy="-2.6">7</tspan><tspan dy="2.6">)</tspan></text>
<text x="283.5" y="308.72" font-size="10.9" text-anchor="start" fill="#111" font-weight="bold" stroke="#111" stroke-width="0.45">K</text>
<line x1="314.6" y1="316.6" x2="314.6" y2="404.6" stroke="#2a2a2a" stroke-width="1.1"/>
<line x1="311.6" y1="404.1" x2="314.6" y2="404.1" stroke="#2a2a2a" stroke-width="1.1"/>
<text x="308.7" y="406.51" font-size="6.7" text-anchor="end" fill="#2a2a2a" stroke="#2a2a2a" stroke-width="0.12">0.00</text>
<line x1="311.6" y1="375.93" x2="314.6" y2="375.93" stroke="#2a2a2a" stroke-width="1.1"/>
<text x="308.7" y="378.34" font-size="6.7" text-anchor="end" fill="#2a2a2a" stroke="#2a2a2a" stroke-width="0.12">0.05</text>
<line x1="311.6" y1="347.76" x2="314.6" y2="347.76" stroke="#2a2a2a" stroke-width="1.1"/>
<text x="308.7" y="350.17" font-size="6.7" text-anchor="end" fill="#2a2a2a" stroke="#2a2a2a" stroke-width="0.12">0.10</text>
<line x1="311.6" y1="319.59" x2="314.6" y2="319.59" stroke="#2a2a2a" stroke-width="1.1"/>
<text x="308.7" y="322" font-size="6.7" text-anchor="end" fill="#2a2a2a" stroke="#2a2a2a" stroke-width="0.12">0.15</text>
<rect x="326.65" y="358.4" width="21.9" height="45.7" fill="#79a1c9"/>
<rect x="361.75" y="393.6" width="21.9" height="10.5" fill="#eda6b4"/>
<line x1="314.1" y1="404.1" x2="389.9" y2="404.1" stroke="#2a2a2a" stroke-width="1.1"/>
<line x1="337.6" y1="404.1" x2="337.6" y2="407.1" stroke="#2a2a2a" stroke-width="1.1"/>
<line x1="372.7" y1="404.1" x2="372.7" y2="407.1" stroke="#2a2a2a" stroke-width="1.1"/>
<line x1="337.6" y1="342.2" x2="337.6" y2="373.4" stroke="#1d4f82" stroke-width="1.1"/>
<line x1="332.1" y1="342.2" x2="343.1" y2="342.2" stroke="#1d4f82" stroke-width="1.1"/>
<line x1="332.1" y1="373.4" x2="343.1" y2="373.4" stroke="#1d4f82" stroke-width="1.1"/>
<circle cx="337.6" cy="331.8" r="1.75" fill="#1d4f82"/>
<circle cx="337.6" cy="355.4" r="1.75" fill="#1d4f82"/>
<circle cx="337.6" cy="385.4" r="1.75" fill="#1d4f82"/>
<line x1="372.7" y1="387.5" x2="372.7" y2="397.9" stroke="#b51b42" stroke-width="1.1"/>
<line x1="367.45" y1="387.5" x2="377.95" y2="387.5" stroke="#b51b42" stroke-width="1.1"/>
<line x1="367.45" y1="397.9" x2="377.95" y2="397.9" stroke="#b51b42" stroke-width="1.1"/>
<rect x="371.3" y="372.5" width="3" height="3" fill="#b51b42"/>
<rect x="368.5" y="391" width="3" height="3" fill="#b51b42"/>
<rect x="374" y="391.7" width="3" height="3" fill="#b51b42"/>
<rect x="371.3" y="395.9" width="3" height="3" fill="#b51b42"/>
<rect x="368.5" y="400" width="3" height="3" fill="#b51b42"/>
<rect x="373.8" y="399.7" width="3" height="3" fill="#b51b42"/>
<line x1="337.6" y1="328.4" x2="373" y2="328.4" stroke="#3c3c3c" stroke-width="0.7"/>
<text x="355.3" y="327.96" font-size="6" text-anchor="middle" fill="#2a2a2a" stroke="#2a2a2a" stroke-width="0.12">**</text>
<text x="337.9" y="415.78" font-size="6.9" text-anchor="middle" fill="#2a2a2a" stroke="#2a2a2a" stroke-width="0.12">Ctl</text>
<text x="372.7" y="415.82" font-size="7" text-anchor="middle" fill="#2a2a2a" textLength="29.7" lengthAdjust="spacingAndGlyphs" stroke="#2a2a2a" stroke-width="0.12">Finasteride</text>
<text x="286.6" y="361.27" font-size="7.7" text-anchor="middle" fill="#2a2a2a" font-weight="bold" textLength="72" lengthAdjust="spacingAndGlyphs" transform="rotate(-90 286.6 358.5)">Bone marrow LICs (1×10<tspan font-size="4.4" dy="-2.5">7</tspan><tspan dy="2.5">)</tspan></text>
<text x="406.5" y="308.72" font-size="10.9" text-anchor="start" fill="#111" font-weight="bold" stroke="#111" stroke-width="0.45">L</text>
<line x1="433" y1="317.3" x2="433" y2="404.6" stroke="#2a2a2a" stroke-width="1.1"/>
<line x1="430" y1="404.1" x2="433" y2="404.1" stroke="#2a2a2a" stroke-width="1.1"/>
<text x="427.1" y="406.51" font-size="6.7" text-anchor="end" fill="#2a2a2a" stroke="#2a2a2a" stroke-width="0.12">0.0</text>
<line x1="430" y1="376.15" x2="433" y2="376.15" stroke="#2a2a2a" stroke-width="1.1"/>
<text x="427.1" y="378.56" font-size="6.7" text-anchor="end" fill="#2a2a2a" stroke="#2a2a2a" stroke-width="0.12">0.5</text>
<line x1="430" y1="348.2" x2="433" y2="348.2" stroke="#2a2a2a" stroke-width="1.1"/>
<text x="427.1" y="350.61" font-size="6.7" text-anchor="end" fill="#2a2a2a" stroke="#2a2a2a" stroke-width="0.12">1.0</text>
<line x1="430" y1="320.25" x2="433" y2="320.25" stroke="#2a2a2a" stroke-width="1.1"/>
<text x="427.1" y="322.66" font-size="6.7" text-anchor="end" fill="#2a2a2a" stroke="#2a2a2a" stroke-width="0.12">1.5</text>
<rect x="445.8" y="356.1" width="22.6" height="48" fill="#79a1c9"/>
<line x1="432.5" y1="404.1" x2="510.4" y2="404.1" stroke="#2a2a2a" stroke-width="1.1"/>
<line x1="457.1" y1="404.1" x2="457.1" y2="407.1" stroke="#2a2a2a" stroke-width="1.1"/>
<line x1="492.2" y1="404.1" x2="492.2" y2="407.1" stroke="#2a2a2a" stroke-width="1.1"/>
<line x1="457.1" y1="341.5" x2="457.1" y2="369.2" stroke="#1d4f82" stroke-width="1.1"/>
<line x1="451.6" y1="341.5" x2="462.6" y2="341.5" stroke="#1d4f82" stroke-width="1.1"/>
<line x1="451.6" y1="369.2" x2="462.6" y2="369.2" stroke="#1d4f82" stroke-width="1.1"/>
<circle cx="457.1" cy="330" r="1.75" fill="#1d4f82"/>
<circle cx="457.1" cy="357.7" r="1.75" fill="#1d4f82"/>
<circle cx="457.1" cy="378.9" r="1.75" fill="#1d4f82"/>
<circle cx="483" cy="403.9" r="1.85" fill="#b51b42"/>
<circle cx="487.8" cy="403.9" r="1.85" fill="#b51b42"/>
<circle cx="492.6" cy="403.9" r="1.85" fill="#b51b42"/>
<circle cx="497.4" cy="403.9" r="1.85" fill="#b51b42"/>
<circle cx="502.2" cy="403.9" r="1.85" fill="#b51b42"/>
<line x1="457.1" y1="326.5" x2="493.1" y2="326.5" stroke="#3c3c3c" stroke-width="0.7"/>
<text x="475.1" y="326.06" font-size="6" text-anchor="middle" fill="#2a2a2a" stroke="#2a2a2a" stroke-width="0.12">**</text>
<text x="457.4" y="415.78" font-size="6.9" text-anchor="middle" fill="#2a2a2a" stroke="#2a2a2a" stroke-width="0.12">Ctl</text>
<text x="492.2" y="415.82" font-size="7" text-anchor="middle" fill="#2a2a2a" textLength="29.7" lengthAdjust="spacingAndGlyphs" stroke="#2a2a2a" stroke-width="0.12">Finasteride</text>
<text x="410.5" y="362.99" font-size="7.2" text-anchor="middle" fill="#2a2a2a" font-weight="bold" textLength="53.5" lengthAdjust="spacingAndGlyphs" transform="rotate(-90 410.5 360.4)">Spleen LICs (1×10<tspan font-size="4.4" dy="-2.5">7</tspan><tspan dy="2.5">)</tspan></text>
<text x="7.4" y="442.32" font-size="10.9" text-anchor="start" fill="#111" font-weight="bold" stroke="#111" stroke-width="0.45">M</text>
<rect x="8.5" y="476.8" width="89.2" height="23.9" fill="#c6cacf"/>
<text x="53.1" y="483.93" font-size="6.2" text-anchor="middle" fill="#5d6066" stroke="#5d6066" stroke-width="0.05">2<tspan font-size="3.6" dy="-1.6">o</tspan><tspan dy="1.6"> transplantation</tspan></text>
<text x="53.1" y="491.03" font-size="6.2" text-anchor="middle" fill="#5d6066" stroke="#5d6066" stroke-width="0.05">with retro-orbital injection of 1<tspan font-size="3.6" dy="-1.6">o</tspan></text>
<text x="53.1" y="498.63" font-size="6.2" text-anchor="middle" fill="#5d6066" stroke="#5d6066" stroke-width="0.05">low AR-expressing AML cells</text>
<rect x="99.6" y="481.5" width="36.9" height="17.3" fill="#c6cacf"/>
<text x="118" y="488.43" font-size="6.2" text-anchor="middle" fill="#5d6066" stroke="#5d6066" stroke-width="0.05">Finasteride</text>
<text x="117.6" y="496.03" font-size="6.2" text-anchor="middle" fill="#5d6066" stroke="#5d6066" stroke-width="0.05">20 mg/kg/d</text>
<rect x="156.2" y="489.6" width="31.1" height="9.2" fill="#c6cacf"/>
<text x="171.7" y="496.43" font-size="6.2" text-anchor="middle" fill="#5d6066" stroke="#5d6066" stroke-width="0.05">Endpoint</text>
<rect x="47" y="510.7" width="15.8" height="9.1" fill="#bcc0c6"/>
<text x="54.9" y="517.53" font-size="6.2" text-anchor="middle" fill="#333" font-weight="bold">D1</text>
<rect x="89.7" y="509.7" width="53.8" height="10.6" fill="#bcc0c6"/>
<text x="116.6" y="517.23" font-size="6.2" text-anchor="middle" fill="#333" font-weight="bold">D 8-21 or D 8-35</text>
<rect x="164.9" y="509.7" width="16.6" height="10.6" fill="#bcc0c6"/>
<text x="173.2" y="517.23" font-size="6.2" text-anchor="middle" fill="#333" font-weight="bold">D 60</text>
<line x1="62.8" y1="515.3" x2="89.7" y2="515.3" stroke="#aaa" stroke-width="0.7"/>
<line x1="143.5" y1="515" x2="162" y2="515" stroke="#999" stroke-width="0.7"/>
<path d="M160.6,513.6 L164,515 L160.6,516.4 Z" fill="#888"/>
<line x1="56" y1="505.5" x2="56" y2="501.2" stroke="#999" stroke-width="0.5"/>
<line x1="116.9" y1="503.2" x2="116.9" y2="499.2" stroke="#999" stroke-width="0.5"/>
<line x1="173" y1="503.2" x2="173" y2="499.2" stroke="#999" stroke-width="0.5"/>
<g fill="none" stroke="#a3a5a9" stroke-width="0.7" stroke-linecap="round" stroke-linejoin="round"><path d="M11.8,511 C8.5,509 5.5,506.5 7.2,503.8 C8.5,502.2 11,502.6 12.8,504"/><path d="M26,508.6 C32,509 37,512 41,515.3 C37,518.6 32,521.6 26,522" fill="#fff"/><ellipse cx="20.3" cy="515.3" rx="9.3" ry="7.9" fill="#fff"/><circle cx="27.6" cy="509.9" r="3.3" fill="#fff"/><circle cx="27.6" cy="520.7" r="3.3" fill="#fff"/><path d="M25.5,507.4 C24,509 24,511 25.5,512.5 M25.5,518.1 C24,519.6 24,521.6 25.5,523.2" stroke="#888" stroke-width="1"/><path d="M39,513.6 L43,511.2 M39.6,514.6 L44,514 M39.6,516 L44,516.6 M39,517 L43,519.4" stroke-width="0.5"/><circle cx="18.6" cy="514.2" r="1.3" stroke-width="0.45"/><path d="M19.5,513.2 L21,511.6" stroke-width="0.45"/></g>
<circle cx="35.3" cy="513.2" r="0.95" fill="#7a7a7a"/><circle cx="35.3" cy="517.4" r="0.95" fill="#7a7a7a"/>
<text x="229.7" y="442.72" font-size="10.9" text-anchor="start" fill="#111" font-weight="bold" stroke="#111" stroke-width="0.45">N</text>
<line x1="258.5" y1="447.8" x2="258.5" y2="528.1" stroke="#2a2a2a" stroke-width="1.1"/>
<line x1="255.5" y1="527.6" x2="258.5" y2="527.6" stroke="#2a2a2a" stroke-width="1.1"/>
<text x="252.6" y="530.01" font-size="6.7" text-anchor="end" fill="#2a2a2a" stroke="#2a2a2a" stroke-width="0.12">0</text>
<line x1="255.5" y1="491.31" x2="258.5" y2="491.31" stroke="#2a2a2a" stroke-width="1.1"/>
<text x="252.6" y="493.72" font-size="6.7" text-anchor="end" fill="#2a2a2a" stroke="#2a2a2a" stroke-width="0.12">50</text>
<line x1="255.5" y1="455.02" x2="258.5" y2="455.02" stroke="#2a2a2a" stroke-width="1.1"/>
<text x="252.6" y="457.43" font-size="6.7" text-anchor="end" fill="#2a2a2a" stroke="#2a2a2a" stroke-width="0.12">100</text>
<line x1="258" y1="527.6" x2="375.8" y2="527.6" stroke="#2a2a2a" stroke-width="1.1"/>
<line x1="258.5" y1="527.6" x2="258.5" y2="530.6" stroke="#2a2a2a" stroke-width="1.1"/>
<line x1="297.42" y1="527.6" x2="297.42" y2="530.6" stroke="#2a2a2a" stroke-width="1.1"/>
<line x1="336.34" y1="527.6" x2="336.34" y2="530.6" stroke="#2a2a2a" stroke-width="1.1"/>
<line x1="375.26" y1="527.6" x2="375.26" y2="530.6" stroke="#2a2a2a" stroke-width="1.1"/>
<text x="258.5" y="539.17" font-size="6.3" text-anchor="middle" fill="#2a2a2a" stroke="#2a2a2a" stroke-width="0.12">0</text>
<text x="297.42" y="539.17" font-size="6.3" text-anchor="middle" fill="#2a2a2a" stroke="#2a2a2a" stroke-width="0.12">20</text>
<text x="336.34" y="539.17" font-size="6.3" text-anchor="middle" fill="#2a2a2a" stroke="#2a2a2a" stroke-width="0.12">40</text>
<text x="375.26" y="539.17" font-size="6.3" text-anchor="middle" fill="#2a2a2a" stroke="#2a2a2a" stroke-width="0.12">60</text>
<polyline points="319.99,455.02 353.46,455.02 353.46,479.19 359.5,479.19 359.5,503.43 374.87,503.43" stroke="#cc3556" stroke-width="1.5" fill="none"/>
<polyline points="319.8,455.02 319.8,460.61 321.36,460.61 321.36,466.2 322.91,466.2 322.91,488.55 324.08,488.55 324.08,499.66 329.33,499.66 329.33,505.25 333.23,505.25 333.23,510.83 374.87,510.83" stroke="#1f4b7a" stroke-width="1.3" fill="none"/>
<polyline points="255.7,455.02 320.38,455.02 321.75,458.65 323.11,462.28 323.11,484.05 324.27,498.57 324.27,527.6" stroke="#4aae57" stroke-width="1.5" fill="none"/>
<text x="346.9" y="508.88" font-size="6.6" text-anchor="middle" fill="#2a2a2a" stroke="#2a2a2a" stroke-width="0.12"><tspan font-style="italic">P</tspan> = .14</text>
<text x="370.5" y="502.16" font-size="6" text-anchor="middle" fill="#2a2a2a" stroke="#2a2a2a" stroke-width="0.12">**</text>
<text x="316.9" y="551.04" font-size="7.6" text-anchor="middle" fill="#2a2a2a" font-weight="bold" textLength="92.3" lengthAdjust="spacingAndGlyphs">Days post transplantation (2<tspan font-size="4" dy="-2">o</tspan><tspan dy="2"> AML)</tspan></text>
<text x="233.9" y="490.66" font-size="7.4" text-anchor="middle" fill="#2a2a2a" font-weight="bold" textLength="56" lengthAdjust="spacingAndGlyphs" transform="rotate(-90 233.9 488)">Probability of survival</text>
<line x1="365.5" y1="467.9" x2="373.8" y2="467.9" stroke="#4aae57" stroke-width="1"/>
<circle cx="369.6" cy="467.9" r="0.9" fill="#4aae57"/>
<text x="376" y="470.2" font-size="6.4" text-anchor="start" fill="#4aae57" stroke="#4aae57" stroke-width="0.12">low AR donor -&gt; Male n = 10</text>
<line x1="365.5" y1="477.2" x2="373.8" y2="477.2" stroke="#1f4b7a" stroke-width="1"/>
<circle cx="369.6" cy="477.2" r="0.9" fill="#1f4b7a"/>
<text x="376" y="479.5" font-size="6.4" text-anchor="start" fill="#1f4b7a" stroke="#1f4b7a" stroke-width="0.12">low AR donor -&gt; Male+finasteride (2 w) n = 13</text>
<line x1="365.5" y1="485.9" x2="373.8" y2="485.9" stroke="#cc3556" stroke-width="1"/>
<circle cx="369.6" cy="485.9" r="0.9" fill="#cc3556"/>
<text x="376" y="488.2" font-size="6.4" text-anchor="start" fill="#cc3556" stroke="#cc3556" stroke-width="0.12">low AR donor -&gt; Male+finasteride (4 w) n = 3</text>
</svg>
</body></html>
